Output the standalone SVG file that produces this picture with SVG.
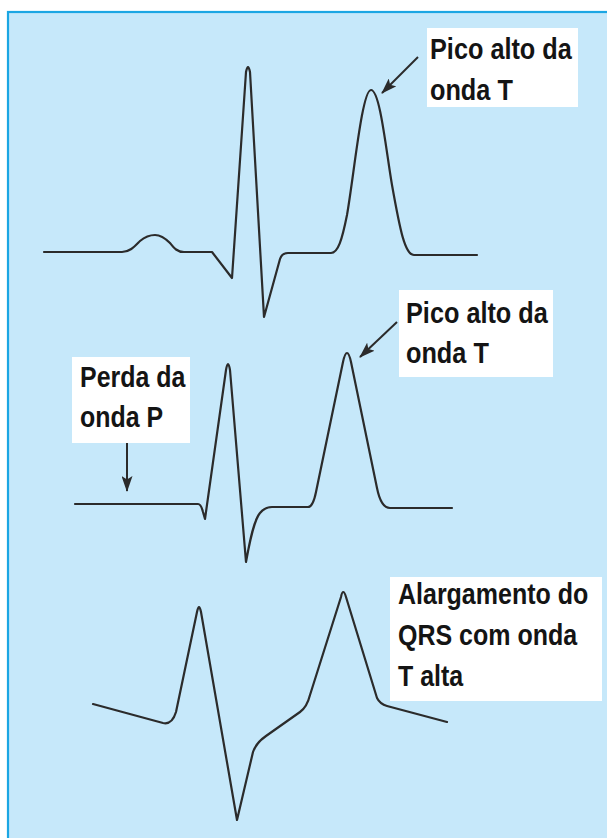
<svg xmlns="http://www.w3.org/2000/svg" width="607" height="838" viewBox="0 0 607 838">
<defs>
<style>
.trace{fill:none;stroke:#2b2b2b;stroke-width:2.2;stroke-linejoin:round;stroke-linecap:round}
.arrow{fill:none;stroke:#2b2b2b;stroke-width:2}
.box{fill:#ffffff}
.lbl{font-family:"Liberation Sans",Arial,sans-serif;font-weight:bold;font-size:29px;fill:#141414}
</style>
<marker id="ah" viewBox="0 0 16 11" refX="15" refY="5.5" markerWidth="16" markerHeight="11" markerUnits="userSpaceOnUse" orient="auto">
<path d="M0,0 L16,5.5 L0,11 L3.5,5.5 Z" fill="#2b2b2b"/>
</marker>
</defs>
<rect x="0" y="0" width="607" height="838" fill="#ffffff"/>
<rect x="8" y="12" width="610" height="840" fill="#c6e8fa" stroke="#1ba6e3" stroke-width="2.2"/>

<g id="connectors">
<path class="arrow" d="M418,57 L382,93" marker-end="url(#ah)"/>
<path class="arrow" d="M397,322 L360,357" marker-end="url(#ah)"/>
<path class="arrow" d="M127,443 L127,491" marker-end="url(#ah)"/>
</g>

<g id="trace1">
<path class="trace" d="M44,252 L122,252 C130,252 135,246 140,241 C146,236 150,235 155,235 C161,235 165,238 170,243 C174,248 177,252 184,252 L212,252 L232,278 L246,72 Q248,62 250,72 L264,317 L280,259 Q282,253 288,253 L331,253 C338,253 342,240 347,215 C354,175 362,90 371,90 C380,90 386,150 392,185 C400,230 405,255 414,255 L477,255"/>
</g>
<g id="trace2">
<path class="trace" d="M75,504 L198,504 Q201,504 203,512 L205,519 L226,370 Q228,358 230,370 L246,562 C250,540 254,520 260,513 Q265,507 272,507 L308,507 Q313,507 316,492 L343,362 Q347,344 351,362 L377,488 Q381,508 390,508 L452,508"/>
</g>
<g id="trace3">
<path class="trace" d="M93,704 L163,723 Q172,725 176,712 L197,612 Q199,602 201,612 L237,820 L253,752 Q256,743 266,736 L300,712 Q307,707 310,695 L341,597 Q343,587 346,597 L377,698 Q380,704 387,706 L447,722"/>
</g>

<g id="label1">
<rect class="box" x="427" y="28" width="151" height="79"/>
<g transform="translate(430,0) scale(0.872,1)">
<text class="lbl" x="0" y="59">Pico alto da</text>
<text class="lbl" x="0" y="100">onda T</text>
</g>
</g>
<g id="label2">
<rect class="box" x="399" y="290" width="154" height="87"/>
<g transform="translate(406,0) scale(0.872,1)">
<text class="lbl" x="0" y="323">Pico alto da</text>
<text class="lbl" x="0" y="363">onda T</text>
</g>
</g>
<g id="label3">
<rect class="box" x="72" y="357" width="118" height="86"/>
<g transform="translate(80,0) scale(0.86,1)">
<text class="lbl" x="0" y="387">Perda da</text>
<text class="lbl" x="0" y="427">onda P</text>
</g>
</g>
<g id="label4">
<rect class="box" x="390" y="577" width="212" height="124"/>
<g transform="translate(398,0) scale(0.862,1)">
<text class="lbl" x="0" y="604">Alargamento do</text>
<text class="lbl" x="0" y="645">QRS com onda</text>
<text class="lbl" x="0" y="686">T alta</text>
</g>
</g>
</svg>
